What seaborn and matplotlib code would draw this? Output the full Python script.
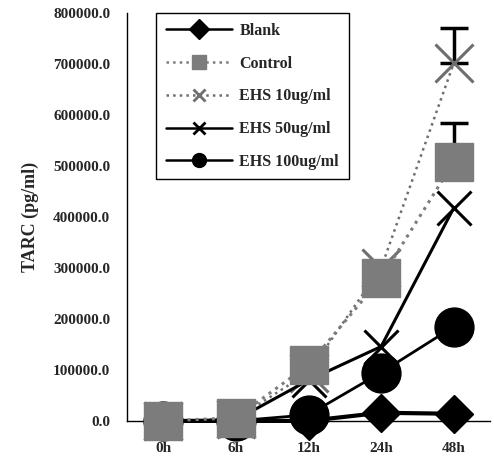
import pandas as pd
import matplotlib
matplotlib.use("Agg")
import matplotlib.pyplot as plt
import seaborn as sns
from matplotlib.lines import Line2D

sns.set_style("white")
plt.rcParams['font.family'] = ['Liberation Serif', 'DejaVu Serif']
plt.rcParams['font.weight'] = 'bold'

times = ['0h', '6h', '12h', '24h', '48h']
series_names = ['Blank', 'Control', 'EHS 10ug/ml', 'EHS 50ug/ml', 'EHS 100ug/ml']
blank = [0, 0, 0, 16000, 14000]
control = [0, 6000, 110000, 280000, 508000]
ehs10 = [0, 4000, 95000, 300000, 702000]
ehs50 = [0, 2000, 80000, 146000, 418000]
ehs100 = [0, 0, 12000, 95000, 185000]
# upper error at 48h only
control_err = 76000
ehs10_err = 70000

df = pd.DataFrame({
    'time': times * 5,
    'TARC': blank + control + ehs10 + ehs50 + ehs100,
    'group': [n for n in series_names for _ in times],
})

styles = {
    'Blank':        dict(color='black',   marker='D', ms=19, lw=3.0, ls='-',  z=3),
    'Control':      dict(color='#7c7c7c', marker='s', ms=28, lw=2.2, ls=':',  z=5),
    'EHS 10ug/ml':  dict(color='#6e6e6e', marker='x', ms=28, lw=1.8, ls=':',  z=4),
    'EHS 50ug/ml':  dict(color='black',   marker='x', ms=25, lw=2.2, ls='-',  z=4),
    'EHS 100ug/ml': dict(color='black',   marker='o', ms=28, lw=2.0, ls='-',  z=4),
}

fig = plt.figure(figsize=(4.94, 4.59), dpi=100)
ax = fig.add_axes([0.257, 0.083, 0.735, 0.888])

ax.errorbar([4], [control[4]], yerr=[[0], [control_err]], fmt='none',
            ecolor='black', elinewidth=2.5, capsize=10, capthick=2.5, zorder=2)
ax.errorbar([4], [ehs10[4]], yerr=[[0], [ehs10_err]], fmt='none',
            ecolor='black', elinewidth=2.5, capsize=10, capthick=2.5, zorder=2)

for name in series_names:
    s = styles[name]
    sub = df[df['group'] == name]
    sns.lineplot(data=sub, x='time', y='TARC', ax=ax, color=s['color'],
                 marker=s['marker'], markersize=s['ms'], linewidth=s['lw'],
                 linestyle=s['ls'], markeredgecolor=s['color'],
                 markeredgewidth=2.2 if s['marker'] == 'x' else 1,
                 zorder=s['z'], legend=False, sort=False, clip_on=False)

ax.set_xlim(-0.46, 4.48)
ax.set_ylim(0, 800000)
ax.set_yticks(range(0, 800001, 100000))
ax.set_yticklabels([f"{v:.1f}" for v in range(0, 800001, 100000)],
                   fontsize=11, fontweight='bold')
ax.set_xticks(range(5))
ax.set_xticklabels(times, fontsize=11, fontweight='bold')
ax.set_xticks([i + 0.5 for i in range(-1, 5)], minor=True)
ax.tick_params(axis='x', which='major', length=0, pad=15)
ax.tick_params(axis='x', which='minor', direction='in', length=3, width=0.8)
ax.tick_params(axis='y', direction='in', length=4, width=0.8, pad=12)
ax.set_xlabel('')
ax.set_ylabel('TARC (pg/ml)', fontsize=13, fontweight='bold', labelpad=10)
for side in ['top', 'right']:
    ax.spines[side].set_visible(False)
for side in ['left', 'bottom']:
    ax.spines[side].set_color('black')
    ax.spines[side].set_linewidth(1.0)

handles = []
for name in series_names:
    s = styles[name]
    handles.append(Line2D([], [], color=s['color'], marker=s['marker'],
                          markersize=10 if s['marker'] != 'x' else 9,
                          markeredgewidth=2 if s['marker'] == 'x' else 1,
                          linewidth=1.8, linestyle=s['ls'], label=name))
leg = ax.legend(handles=handles, loc='upper left', bbox_to_anchor=(0.068, 1.012),
                frameon=True, fancybox=False, edgecolor='black', framealpha=1,
                handlelength=4.1, handletextpad=0.5, labelspacing=1.05,
                borderpad=0.6, borderaxespad=0.3,
                prop={'family': 'Liberation Serif', 'weight': 'bold', 'size': 11.5})
leg.get_frame().set_linewidth(1.0)

fig.savefig('out.png', dpi=100)
